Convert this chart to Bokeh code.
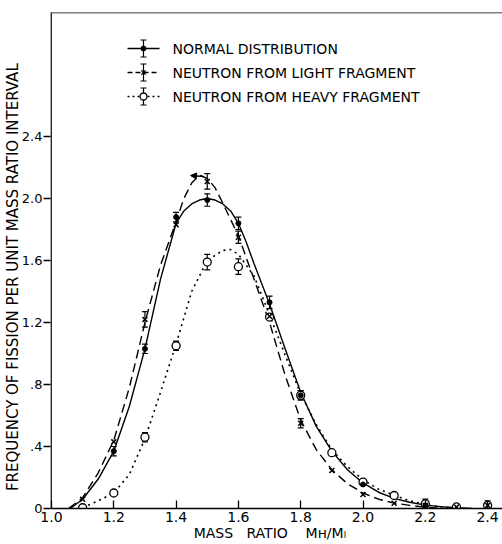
import math
from bokeh.plotting import figure
from bokeh.models import (ColumnDataSource, Whisker, TeeHead, Label, Span, FixedTicker,
                          Range1d, Arrow, NormalHead)
from bokeh.embed import file_html
from bokeh.resources import INLINE

# ---------------- data ----------------
x_ticks = [1.0, 1.2, 1.4, 1.6, 1.8, 2.0, 2.2, 2.4]
x_tick_labels = ["1.0", "1.2", "1.4", "1.6", "1.8", "2.0", "2.2", "2.4"]
y_ticks = [0, 0.4, 0.8, 1.2, 1.6, 2.0, 2.4]
y_tick_labels = ["0", ".4", ".8", "1.2", "1.6", "2.0", "2.4"]

# normal distribution (filled dots, solid curve)
normal_x = [1.2, 1.3, 1.4, 1.5, 1.6, 1.7, 1.8, 2.0, 2.2]
normal_y = [0.37, 1.03, 1.88, 1.99, 1.84, 1.33, 0.73, 0.155, 0.02]
normal_err = [0.03, 0.03, 0.03, 0.04, 0.04, 0.04, 0.03, 0.0, 0.0]
normal_curve_x = [1.06, 1.1, 1.15, 1.2, 1.25, 1.3, 1.35, 1.4, 1.425, 1.45, 1.475, 1.5, 1.525,
                  1.55, 1.575, 1.6, 1.625, 1.65, 1.7, 1.75, 1.8, 1.85, 1.9, 1.95, 2.0, 2.05,
                  2.1, 2.15, 2.2, 2.25, 2.3, 2.35]
normal_curve_y = [0.0, 0.06, 0.19, 0.37, 0.66, 1.03, 1.48, 1.84, 1.92, 1.965, 1.99, 2.0, 1.99,
                  1.965, 1.92, 1.84, 1.72, 1.58, 1.32, 1.03, 0.75, 0.53, 0.37, 0.25, 0.165, 0.105,
                  0.065, 0.04, 0.022, 0.012, 0.005, 0.0]

# neutron from light fragment (x markers, dashed curve)
light_x = [1.1, 1.2, 1.3, 1.4, 1.5, 1.6, 1.7, 1.8, 1.9, 2.0, 2.1, 2.2, 2.3, 2.4]
light_y = [0.06, 0.43, 1.22, 1.83, 2.11, 1.75, 1.24, 0.55, 0.245, 0.09, 0.034, 0.02, 0.01, 0.02]
light_err = [0.0, 0.0, 0.05, 0.0, 0.05, 0.04, 0.0, 0.03, 0.0, 0.0, 0.0, 0.0, 0.0, 0.0]
light_curve_x = [1.055, 1.1, 1.15, 1.2, 1.25, 1.3, 1.35, 1.4, 1.425, 1.45, 1.475, 1.5, 1.525,
                 1.55, 1.6, 1.65, 1.7, 1.75, 1.8, 1.85, 1.9, 1.95, 2.0, 2.05, 2.1, 2.15, 2.2, 2.25]
light_curve_y = [0.0, 0.07, 0.23, 0.44, 0.78, 1.2, 1.57, 1.85, 2.0, 2.1, 2.15, 2.13, 2.07,
                 1.97, 1.76, 1.48, 1.2, 0.86, 0.57, 0.38, 0.25, 0.16, 0.1, 0.06, 0.035, 0.02, 0.008, 0.0]

# neutron from heavy fragment (open circles, dotted curve)
heavy_x = [1.1, 1.2, 1.3, 1.4, 1.5, 1.6, 1.7, 1.8, 1.9, 2.0, 2.1, 2.2, 2.3, 2.4]
heavy_y = [0.005, 0.10, 0.46, 1.05, 1.59, 1.56, 1.235, 0.73, 0.36, 0.17, 0.084, 0.03, 0.01, 0.02]
heavy_err = [0.0, 0.0, 0.03, 0.03, 0.05, 0.05, 0.0, 0.03, 0.0, 0.0, 0.0, 0.03, 0.0, 0.03]
heavy_curve_x = [1.1, 1.15, 1.2, 1.25, 1.3, 1.35, 1.4, 1.45, 1.5, 1.55, 1.575, 1.6, 1.65, 1.7,
                 1.75, 1.8, 1.85, 1.9, 1.95, 2.0, 2.05, 2.1, 2.15, 2.2, 2.25, 2.3]
heavy_curve_y = [0.005, 0.05, 0.1, 0.22, 0.45, 0.75, 1.06, 1.40, 1.60, 1.665, 1.67, 1.64, 1.5, 1.25,
                 0.99, 0.74, 0.54, 0.38, 0.27, 0.185, 0.125, 0.085, 0.05, 0.025, 0.01, 0.0]

legend_names = ["NORMAL DISTRIBUTION", "NEUTRON FROM LIGHT FRAGMENT", "NEUTRON FROM HEAVY FRAGMENT"]
y_title = "FREQUENCY OF FISSION PER UNIT MASS RATIO INTERVAL"
NB = "\u00a0"
x_title = "MASS" + NB * 3 + "RATIO" + NB * 4 + "M\u029c/M\u2097"

# ---------------- layout ----------------
W, H = 502, 544
L, T, B = 50, 12, 36
PX_PER_X = 311.5
PX_PER_Y = 155.0
x0 = 1.0 - 1.0 / PX_PER_X
x1 = x0 + (W - L) / PX_PER_X
y1 = (H - T - B) / PX_PER_Y

def dx(px):
    return x0 + (px - L) / PX_PER_X

def dy(py):
    return (H - B - py) / PX_PER_Y

FONT = "DejaVu Sans"

p = figure(width=W, height=H, output_backend="svg", toolbar_location=None, tools="",
           x_range=Range1d(x0, x1), y_range=Range1d(0, y1),
           min_border_left=L, min_border_right=0, min_border_top=T, min_border_bottom=B)
p.outline_line_color = None
p.xgrid.visible = False
p.ygrid.visible = False
p.background_fill_color = "white"
p.border_fill_color = "white"

for ax in (p.xaxis[0], p.yaxis[0]):
    ax.axis_line_width = 1.5
    ax.axis_line_color = "black"
    ax.major_tick_line_width = 1.3
    ax.minor_tick_line_color = None
    ax.major_label_text_font = FONT
    ax.major_label_text_color = "black"
    ax.axis_label_text_font = FONT
    ax.axis_label_text_font_style = "normal"
    ax.axis_label_text_color = "black"

p.xaxis.ticker = FixedTicker(ticks=x_ticks)
p.xaxis.major_label_overrides = dict(zip(x_ticks, x_tick_labels))
p.xaxis.major_label_text_font_size = "14px"
p.xaxis.major_tick_in = 8
p.xaxis.major_tick_out = 0
p.xaxis.major_label_standoff = 3
p.xaxis.axis_label = x_title + NB * 3
p.xaxis.axis_label_text_font_size = "14px"
p.xaxis.axis_label_standoff = 0

p.yaxis.ticker = FixedTicker(ticks=y_ticks)
p.yaxis.major_label_overrides = dict(zip(y_ticks, y_tick_labels))
p.yaxis.major_label_text_font_size = "13px"
p.yaxis.major_tick_in = 0
p.yaxis.major_tick_out = 7
p.yaxis.major_label_standoff = 1
# trailing non-breaking spaces move the centred title down to where the reference has it
p.yaxis.axis_label = y_title + NB * 7
p.yaxis.axis_label_text_font_size = "15px"
p.yaxis.axis_label_standoff = -3
p.yaxis.axis_line_color = None

# frame lines: left axis line over the full height and the top border
p.add_layout(Span(location=x0 + 0.6 / PX_PER_X, dimension="height", line_color="black", line_width=1.5))
p.add_layout(Span(location=y1, dimension="width", line_color="black", line_width=1.5))

# ---------------- curves ----------------
p.line(normal_curve_x, normal_curve_y, line_color="black", line_width=1.4)
p.line(light_curve_x, light_curve_y, line_color="black", line_width=1.4, line_dash="9 5")
p.line(heavy_curve_x, heavy_curve_y, line_color="black", line_width=1.6, line_dash="2 4")

# ---------------- error bars ----------------
def add_err(xs, ys, es):
    sel = [(a, b, e) for a, b, e in zip(xs, ys, es) if e > 0]
    src = ColumnDataSource(dict(x=[s[0] for s in sel],
                                lo=[s[1] - s[2] for s in sel],
                                hi=[s[1] + s[2] for s in sel]))
    w = Whisker(source=src, base="x", lower="lo", upper="hi", line_color="black", line_width=1.2,
                upper_head=TeeHead(size=6, line_width=1.2, line_color="black"),
                lower_head=TeeHead(size=6, line_width=1.2, line_color="black"))
    p.add_layout(w)

add_err(normal_x, normal_y, normal_err)
add_err(light_x, light_y, light_err)
add_err(heavy_x, heavy_y, heavy_err)

# ---------------- markers ----------------
p.scatter(heavy_x, heavy_y, marker="circle", size=8, fill_color="white", line_color="black", line_width=1.3)
p.scatter(light_x, light_y, marker="x", size=7, line_color="black", line_width=1.5)
p.scatter(normal_x, normal_y, marker="circle", size=5, fill_color="black", line_color="black")

# small arrow at the peak of the dashed curve
p.add_layout(Arrow(x_start=dx(203), y_start=dy(176), x_end=dx(190), y_end=dy(175),
                   line_color="black", line_width=1.3,
                   end=NormalHead(size=6, fill_color="black", line_color="black")))

# ---------------- legend (drawn by hand) ----------------
rows_py = [48, 72, 96]
dashes = ["solid", "5 3", "2 3"]
markers = ["dot", "x", "o"]
for name, py, dash, mk in zip(legend_names, rows_py, dashes, markers):
    yy = dy(py)
    p.line([dx(127), dx(159)], [yy, yy], line_color="black", line_width=1.3, line_dash=dash)
    xc = dx(143)
    p.segment([xc, dx(140), dx(140)], [dy(py - 8.5), dy(py - 8.5), dy(py + 8.5)],
              [xc, dx(146), dx(146)], [dy(py + 8.5), dy(py - 8.5), dy(py + 8.5)],
              line_color="black", line_width=1.2)
    if mk == "dot":
        p.scatter([xc], [yy], marker="circle", size=5, fill_color="black", line_color="black")
    elif mk == "x":
        p.scatter([xc], [yy], marker="x", size=6, line_color="black", line_width=1.4)
    else:
        p.scatter([xc], [yy], marker="circle", size=7, fill_color="white", line_color="black", line_width=1.3)
    p.add_layout(Label(x=dx(172), y=yy, text=name, text_font=FONT, text_font_size="14px",
                       text_color="black", text_align="left", text_baseline="middle"))

open("out.html", "w").write(file_html(p, INLINE))
